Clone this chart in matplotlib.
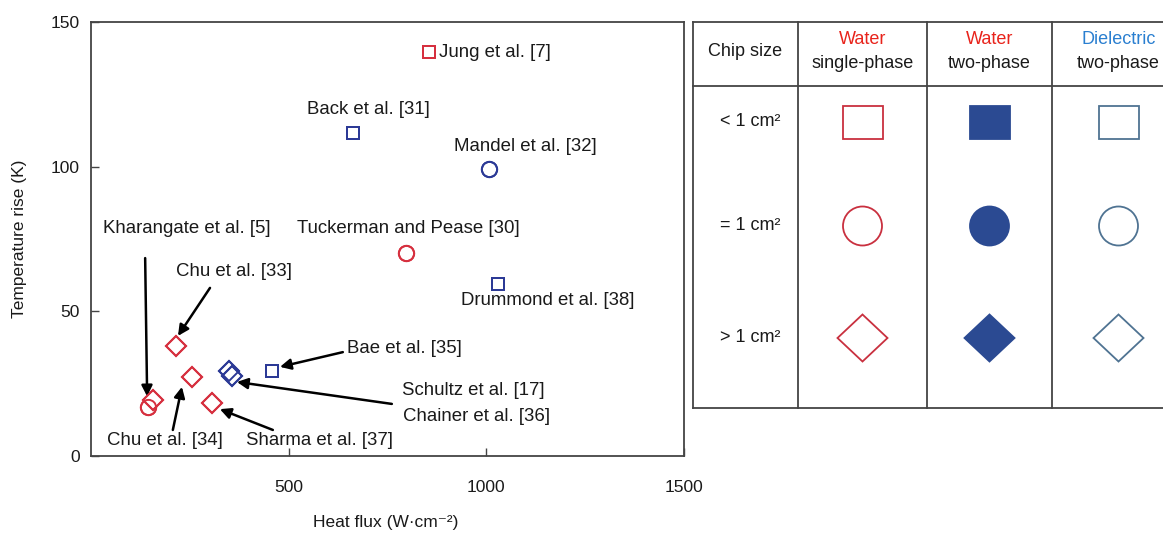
import matplotlib.pyplot as plt
from matplotlib.patches import Rectangle, Ellipse, Polygon

plt.rcParams['font.family'] = ['Liberation Sans', 'DejaVu Sans']
plt.rcParams['font.size'] = 13.4

RED = '#d6303f'
BLUE = '#2c3a96'

# literature data: heat flux (W/cm2), temperature rise (K)
labels = ['Jung et al. [7]', 'Back et al. [31]', 'Mandel et al. [32]',
          'Tuckerman and Pease [30]', 'Drummond et al. [38]', 'Bae et al. [35]',
          'Schultz et al. [17]', 'Chainer et al. [36]', 'Chu et al. [33]',
          'Chu et al. [34]', 'Sharma et al. [37]', 'Kharangate et al. [5]',
          'Kharangate et al. [5]']
heat_flux = [855, 663, 1007, 796, 1029, 457, 350, 357, 215, 255, 306, 144, 157]
temp_rise = [139.5, 111.6, 99.2, 70.3, 59.5, 29.4, 29.3, 27.5, 38.0, 27.3, 18.3, 17.0, 19.4]
markers = ['s', 's', 'o', 'o', 's', 's', 'D', 'D', 'D', 'D', 'D', 'o', 'D']
colors = [RED, BLUE, BLUE, RED, BLUE, BLUE, BLUE, BLUE, RED, RED, RED, RED, RED]
sizes = {'s': 9, 'o': 11, 'D': 10}

# text labels placed next to their points: (text, x, y, ha)
plain_labels = [
    ('Jung et al. [7]', 880, 139.6, 'left'),
    ('Back et al. [31]', 701, 119.9, 'center'),
    ('Mandel et al. [32]', 1100, 106.8, 'center'),
    ('Tuckerman and Pease [30]', 802, 78.8, 'center'),
    ('Drummond et al. [38]', 1156, 53.9, 'center'),
]
# labels with arrows: (text, text x, text y, ha, arrow tail, arrow head)
arrow_labels = [
    ('Kharangate et al. [5]', 242, 78.8, 'center', (137, 68.4), (142, 20.6)),
    ('Chu et al. [33]', 362, 63.6, 'center', (301, 58.1), (220, 41.5)),
    ('Bae et al. [35]', 648, 37.3, 'left', (637, 35.9), (478, 30.8)),
    ('Schultz et al. [17]', 787, 22.5, 'left', (761, 18.0), (369, 25.6)),
    ('Chainer et al. [36]', 789, 13.8, 'left', None, None),
    ('Chu et al. [34]', 187, 5.2, 'center', (207, 9.0), (230, 23.9)),
    ('Sharma et al. [37]', 579, 5.2, 'center', (460, 9.0), (326, 16.2)),
]

W, H = 1163, 535
fig = plt.figure(figsize=(W / 100, H / 100), dpi=100)
ax = fig.add_axes([91 / W, 1 - 456 / H, (684 - 91) / W, (456 - 22) / H])

for x, y, m, c in zip(heat_flux, temp_rise, markers, colors):
    ax.plot(x, y, marker=m, ms=sizes[m], mfc='white', mec=c, mew=1.4,
            linestyle='none', zorder=3)
    ax.plot(x, y, marker=m, ms=sizes[m], mfc='none', mec=c, mew=1.4,
            linestyle='none', zorder=5)

for txt, x, y, ha in plain_labels:
    ax.text(x, y, txt, ha=ha, va='center', color='#1a1a1a')

for txt, x, y, ha, tail, head in arrow_labels:
    ax.text(x, y, txt, ha=ha, va='center', color='#1a1a1a')
    if tail is not None:
        ax.annotate('', xy=head, xytext=tail,
                    arrowprops=dict(arrowstyle='-|>', color='black', lw=1.8,
                                    mutation_scale=16, shrinkA=0, shrinkB=0),
                    zorder=4)

ax.set_xlim(0, 1500)
ax.set_ylim(0, 150)
ax.set_xticks([500, 1000, 1500])
ax.set_yticks([0, 50, 100, 150])
ax.tick_params(axis='both', direction='in', length=6, width=1.0, color='#444444',
               labelsize=12.5, labelcolor='#1a1a1a')
ax.tick_params(axis='x', pad=17)
ax.tick_params(axis='y', pad=8)
for s in ax.spines.values():
    s.set_color('#444444')
    s.set_linewidth(1.3)
ax.set_xlabel('Heat flux (W·cm⁻²)', fontsize=12.5, color='#1a1a1a')
ax.set_ylabel('Temperature rise (K)', fontsize=12.5, color='#1a1a1a')
ax.xaxis.set_label_coords(0.497, -0.135)
ax.yaxis.set_label_coords(-0.108, 0.5)

# legend table
col_edges = [0, 105, 234, 359, 492]
header_line = 64
row_centers = [100, 204, 316]
row_labels = ['< 1 cm²', '= 1 cm²', '> 1 cm²']
head_top = ['Water', 'Water', 'Dielectric']
head_top_colors = ['#e8231b', '#e8231b', '#2a7fd0']
head_bottom = ['single-phase', 'two-phase', 'two-phase']
edge_colors = ['#c9303f', '#2b4a92', '#4f7392']
face_colors = ['white', '#2b4a92', 'white']

tab_w = col_edges[-1]
tab_h = 386
lg = fig.add_axes([693 / W, 1 - 408 / H, tab_w / W, tab_h / H])
lg.set_xlim(0, tab_w)
lg.set_ylim(tab_h, 0)
lg.axis('off')

line_kw = dict(color='#444444', lw=1.3, clip_on=False)
lg.plot([0, tab_w], [0, 0], **line_kw)
lg.plot([0, tab_w], [tab_h, tab_h], **line_kw)
lg.plot([0, tab_w], [header_line, header_line], **line_kw)
for xe in col_edges[:-1]:
    lg.plot([xe, xe], [0, tab_h], **line_kw)

centers = [(a + b) / 2 for a, b in zip(col_edges[:-1], col_edges[1:])]
lg.text(centers[0], 30, 'Chip size', ha='center', va='center', color='#1a1a1a',
        fontsize=13)
for i, cx in enumerate(centers[1:]):
    lg.text(cx, 18, head_top[i], ha='center', va='center', color=head_top_colors[i],
            fontsize=13)
    lg.text(cx, 41, head_bottom[i], ha='center', va='center', color='#1a1a1a',
            fontsize=13)

for r, (cy, lab) in enumerate(zip(row_centers, row_labels)):
    lg.text(centers[0] + 5, cy, lab, ha='center', va='center', color='#1a1a1a',
            fontsize=13)
    for i, cx in enumerate(centers[1:]):
        kw = dict(facecolor=face_colors[i], edgecolor=edge_colors[i], lw=1.3)
        if r == 0:
            shape = Rectangle((cx - 20, cy - 16.5), 40, 33, **kw)
        elif r == 1:
            shape = Ellipse((cx, cy), 39, 39, **kw)
        else:
            shape = Polygon([(cx - 25, cy), (cx, cy - 23.5), (cx + 25, cy),
                             (cx, cy + 23.5)], closed=True, **kw)
        lg.add_patch(shape)

fig.savefig('out.png', dpi=100)
